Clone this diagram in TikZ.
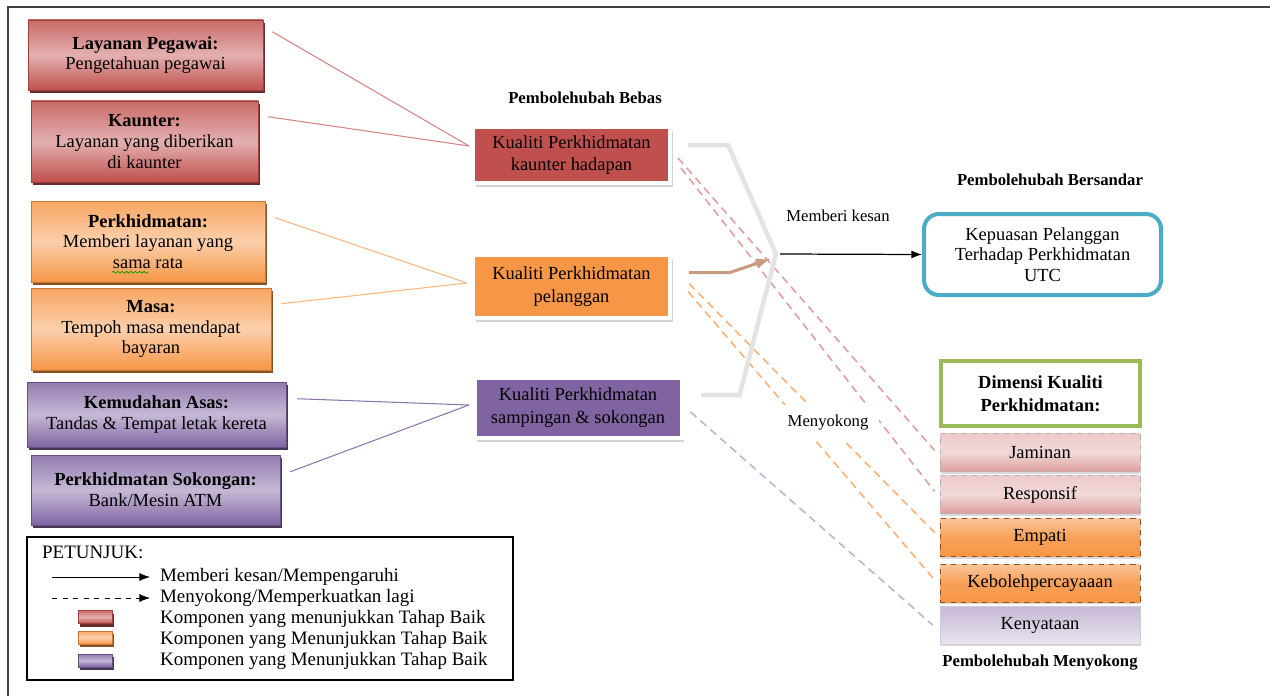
\documentclass[tikz,border=0pt]{standalone}
\usepackage{fontspec}
\setmainfont{Liberation Serif}
\usetikzlibrary{shadows,decorations.pathmorphing,arrows.meta}
\definecolor{redA}{HTML}{C0504D}
\definecolor{orgA}{HTML}{F79646}
\definecolor{purA}{HTML}{8064A2}
\definecolor{cyanA}{HTML}{4BACC6}
\definecolor{grnA}{HTML}{9BBB59}
\definecolor{tanA}{HTML}{C99B7E}

\begin{document}
\begin{tikzpicture}[x=0.02cm,y=-0.02cm,
    every node/.style={font=\fontsize{10.5}{11.8}\selectfont,align=center,inner sep=1pt},
    wh/.style 2 args={minimum width=#1*0.02cm,minimum height=#2*0.02cm},
    lab/.style={font=\bfseries\fontsize{9.5}{11}\selectfont},
    leg/.style={anchor=west,font=\fontsize{10.8}{12}\selectfont},
    tip/.style={-{Latex[length=6pt,width=4.5pt]}},
    lbox/.style={draw=#1!80!black,line width=0.3pt,top color=#1!85,bottom color=#1,middle color=#1!45,
        drop shadow={shadow xshift=0.03cm,shadow yshift=-0.06cm,opacity=1,fill=#1!55!black}},
    mbox/.style={fill=#1,draw=white,line width=0.08cm,font=\fontsize{10.5}{13}\selectfont,
        drop shadow={shadow xshift=0.05cm,shadow yshift=-0.07cm,opacity=0.35}},
    pinkbox/.style={draw=gray!60,dashed,top color=redA!30,bottom color=redA!55,middle color=redA!22,
        drop shadow={shadow xshift=0.02cm,shadow yshift=-0.04cm,opacity=0.3}},
    orgbox/.style={draw=orgA!55!black,dashed,top color=orgA!55,bottom color=orgA,middle color=orgA!90,
        drop shadow={shadow xshift=0.02cm,shadow yshift=-0.04cm,opacity=0.3}},
    lavbox/.style={draw=purA!35,top color=purA!45,bottom color=purA!18,
        drop shadow={shadow xshift=0.02cm,shadow yshift=-0.04cm,opacity=0.3}},
    cl/.style={line width=0.6pt,#1},
    dl/.style={dash pattern=on 4.5pt off 3pt,line width=0.9pt,#1}]

    \useasboundingbox (0,0) rectangle (1270,696);
    \draw[line width=1.2pt,black!75] (8,696) -- (8,7) -- (1270,7);

    \node[lbox=redA,wh={235}{70}] (lp) at (145.5,55) {\textbf{Layanan Pegawai:}\\Pengetahuan pegawai};
    \node[lbox=redA,wh={227}{81}] (kt) at (144.5,141.5) {\textbf{Kaunter:}\\Layanan yang diberikan\\di kaunter};
    \node[lbox=orgA,wh={234}{81}] (pk) at (148,241.5) {\textbf{Perkhidmatan:}\\Memberi layanan yang\\sama rata};
    \node[lbox=orgA,wh={240}{82}] (ms) at (151,329) {\textbf{Masa:}\\Tempoh masa mendapat\\bayaran};
    \node[lbox=purA,wh={259}{65}] (ka) at (156.5,414.5) {\textbf{Kemudahan Asas:}\\Tandas \& Tempat letak kereta};
    \node[lbox=purA,wh={249}{70}] (ps) at (155.5,490) {\textbf{Perkhidmatan Sokongan:}\\Bank/Mesin ATM};
    \draw[green!60!black,decorate,decoration={snake,amplitude=0.5pt,segment length=2.5pt}]
        ([shift={(-36,-10)}]pk.south) -- ++(36,0);

    \node[lab] (bebas) at (585,98) {Pembolehubah Bebas};
    \node[mbox=redA,wh={197}{56}] (kh) at (571.5,155) {Kualiti Perkhidmatan\\kaunter hadapan};
    \node[mbox=orgA,wh={197}{63}] (pl) at (571.5,286.5) {Kualiti Perkhidmatan\\pelanggan};
    \node[mbox=purA,wh={207}{60}] (ss) at (578,408) {Kualiti Perkhidmatan\\sampingan \& sokongan};

    \draw[cl=redA!70!white] ([shift={(9,12)}]lp.north east) -- ([shift={(-2,-9)}]kh.west);
    \draw[cl=redA!70!white] ([shift={(10,16)}]kt.north east) -- ([shift={(-2,-9)}]kh.west);
    \draw[cl=orgA!70!white] ([shift={(10,17)}]pk.north east) -- ([shift={(-4,-3.5)}]pl.west);
    \draw[cl=orgA!70!white] ([shift={(10,16)}]ms.north east) -- ([shift={(-4,-3.5)}]pl.west);
    \draw[cl=purA!90] ([shift={(11,17)}]ka.north east) -- ([shift={(-3.5,-3)}]ss.west);
    \draw[cl=purA!90] ([shift={(10,17)}]ps.north east) -- ([shift={(-3.5,-3)}]ss.west);

    \node[lab] (bersandar) at (1050,180) {Pembolehubah Bersandar};
    \node[draw=cyanA,line width=0.08cm,rounded corners=0.3cm,wh={237}{81},fill=white] (kp) at (1042.5,254.5)
        {Kepuasan Pelanggan\\Terhadap Perkhidmatan\\UTC};
    \node[draw=grnA,line width=0.08cm,wh={199}{65},fill=white,font=\bfseries\fontsize{10.5}{13}\selectfont] (dk)
        at (1040.5,393.5) {Dimensi Kualiti\\Perkhidmatan:};
    \foreach \n/\t/\s/\y in {jm/Jaminan/pinkbox/452.5,rs/Responsif/pinkbox/494.5,em/Empati/orgbox/537.5,
        kb/Kebolehpercayaaan/orgbox/583,ky/Kenyataan/lavbox/625}
        \node[\s,wh={200}{38}] (\n) at (1040,\y) {\t};
    \node[lab] (menyokong) at (1040,663) {Pembolehubah Menyokong};

    \coordinate (apex) at (776,254);
    \draw[dl=redA!55!white] ([shift={(6,3)}]kh.east) -- ([shift={(-5,-2)}]jm.west);
    \draw[dl=redA!55!white] ([shift={(9,13)}]kh.east) -- ([shift={(-5,-3)}]rs.west);
    \draw[dl=orgA!75!white] ([shift={(17,-3)}]pl.east) -- ([shift={(-5,-5)}]em.west);
    \draw[dl=orgA!75!white] ([shift={(16,5)}]pl.east) -- ([shift={(-5,-3)}]kb.west);
    \draw[dl=purA!50!white] ([shift={(7,4)}]ss.east) -- ([shift={(-7,0)}]ky.west);

    \draw[line width=0.06cm,gray!60,shift={(2,2)}] ([shift={(16,-10)}]kh.east) -- ++(40,0) -- (apex)
        -- ([shift={(56,-13)}]ss.east) -- ++(-38,0);
    \draw[line width=0.09cm,gray!22] ([shift={(16,-10)}]kh.east) -- ++(40,0) -- (apex)
        -- ([shift={(56,-13)}]ss.east) -- ++(-38,0);
    \draw[line width=0.06cm,tanA,-latex] ([shift={(17,-14)}]pl.east) -- ++(41,0) -- ([shift={(-6,5)}]apex);
    \draw[line width=0.7pt,tip] ([shift={(4,0)}]apex) -- (kp.west);

    \node[font=\fontsize{9.5}{11}\selectfont] (kesan) at (838,216) {Memberi kesan};
    \node[fill=white,inner sep=6pt,font=\fontsize{9.5}{11}\selectfont] (sokong) at (828,423) {Menyokong};

    \node[draw,line width=0.6pt,wh={486}{143}] (legbox) at (270,608.5) {};
    \node[leg] (ptj) at (40,552) {PETUNJUK:};
    \node[leg] (t1) at (158,577) {Memberi kesan/Mempengaruhi};
    \node[leg] (t2) at (158,598) {Menyokong/Memperkuatkan lagi};
    \node[leg] (t3) at (158,619) {Komponen yang menunjukkan Tahap Baik};
    \node[leg] (t4) at (158,640) {Komponen yang Menunjukkan Tahap Baik};
    \node[leg] (t5) at (158,661) {Komponen yang Menunjukkan Tahap Baik};
    \draw[tip] ([shift={(-106,0)}]t1.west) -- ([shift={(-8,0)}]t1.west);
    \draw[tip,dashed] ([shift={(-106,0)}]t2.west) -- ([shift={(-8,0)}]t2.west);
    \foreach \c/\y in {redA/617,orgA/637.5,purA/660.5}
        \node[lbox=\c,wh={34}{13},inner sep=0pt] (sw\c) at (95,\y) {};
\end{tikzpicture}
\end{document}
